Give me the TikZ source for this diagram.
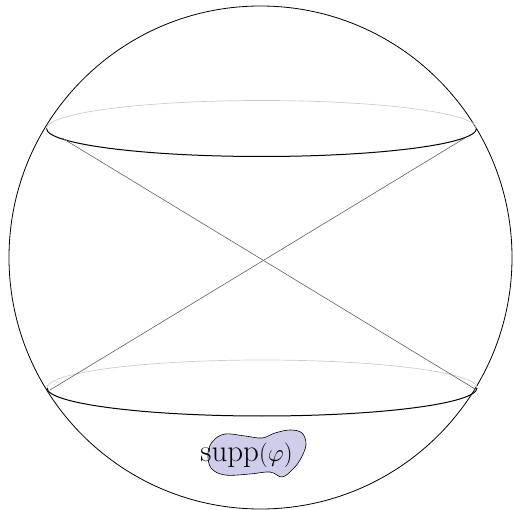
\documentclass[tikz,border=0pt]{standalone}
\usepackage{tikz}
\usetikzlibrary{positioning}
\definecolor{suppfill}{RGB}{206,206,234}

\begin{document}
\begin{tikzpicture}[x=1pt,y=1pt,line join=round]
\tikzstyle{back}=[draw=gray!40,line width=0.7pt]
\tikzstyle{front}=[draw=black,line width=1pt]
\tikzstyle{cone}=[draw=gray!75!black,line width=0.6pt]
\useasboundingbox (0,0) rectangle (514,509);
\coordinate (o) at (260.5,251.5);
\draw[line width=0.8pt] (o) circle (251.5);
% upper and lower sections
\coordinate (u) at (261.5,380.5);
\coordinate (l) at (262,121);
\draw[back] ([xshift=215pt]u) arc (0:180:215 and 28);
\draw[front] ([xshift=-215pt]u) arc (180:360:215 and 28);
\draw[back] ([xshift=215pt]l) arc (0:180:215 and 28);
\draw[front] ([xshift=-215pt]l) arc (180:360:215 and 28);
% light cone
\coordinate (ul) at (62,371);
\coordinate (ur) at (465,371);
\coordinate (ll) at (50,119);
\coordinate (lr) at (475,120);
\draw[cone] (ul) -- (lr);
\draw[cone] (ur) -- (ll);
% support
\filldraw[fill=suppfill,draw=black,line width=0.6pt] plot[smooth cycle,tension=0.6] coordinates
  {(208,56) (213,68) (225,75) (245,73) (262,71) (275,76) (290,79) (302,76)
   (306,64) (300,49) (292,39) (282,32) (270,37) (250,35) (225,34) (211,41)};
\node (supp) at (246.5,54) {\fontsize{31}{36}\selectfont supp$(\varphi)$};
\end{tikzpicture}
\end{document}
